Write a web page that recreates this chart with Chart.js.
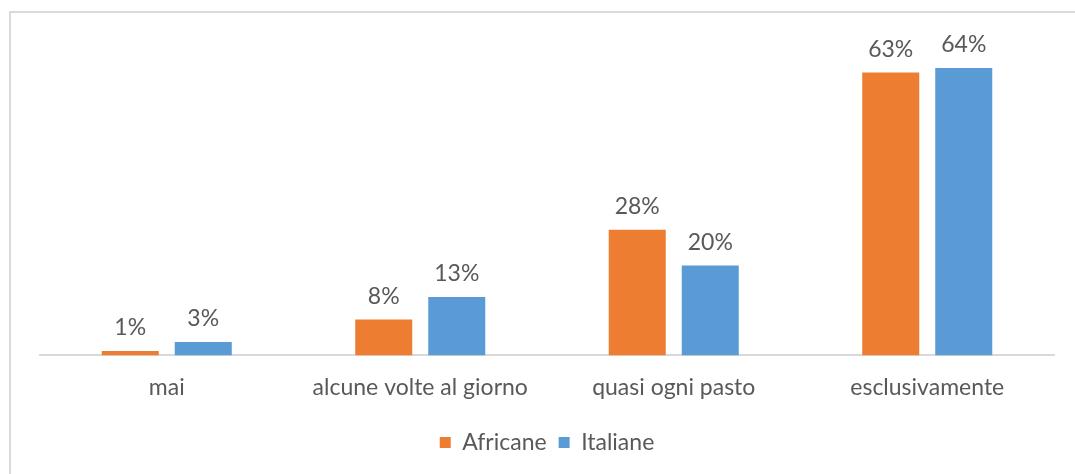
<!DOCTYPE html>
<html>
<head>
<meta charset="utf-8">
<script src="https://cdn.jsdelivr.net/npm/chart.js@4"></script>
<style>
  html, body { margin: 0; padding: 0; background: #ffffff; }
  #wrap { position: relative; width: 1075px; height: 474px; overflow: hidden; }
  #frame { position: absolute; left: 9px; top: 11px; width: 1100px; height: 500px;
           border-top: 2px solid #d9d9d9; border-left: 2px solid #d9d9d9; }
  canvas { position: absolute; left: 0; top: 0; }
</style>
</head>
<body>
<div id="wrap">
  <div id="frame"></div>
  <canvas id="c" width="1075" height="474"></canvas>
</div>
<script>
const categories = ["mai", "alcune volte al giorno", "quasi ogni pasto", "esclusivamente"];
const africane = [1, 8, 28, 63];
const italiane = [3, 13, 20, 64];
const seriesNames = ["Africane", "Italiane"];

const FONT = "Lato, 'Open Sans', sans-serif";
const TEXT = "#595959";
const SIZE = 23;

// Percent labels above every bar, placed from the bar elements themselves
const valueLabels = {
  id: "valueLabels",
  afterDatasetsDraw(chart) {
    const ctx = chart.ctx;
    ctx.save();
    ctx.font = SIZE + "px " + FONT;
    ctx.fillStyle = TEXT;
    ctx.textAlign = "center";
    ctx.textBaseline = "middle";
    chart.data.datasets.forEach((ds, i) => {
      chart.getDatasetMeta(i).data.forEach((bar, j) => {
        ctx.fillText(ds.data[j] + "%", bar.x, bar.y - 23);
      });
    });
    ctx.restore();
  }
};

new Chart(document.getElementById("c"), {
  type: "bar",
  data: {
    labels: categories,
    datasets: [
      { label: seriesNames[0], data: africane, backgroundColor: "#ED7D31" },
      { label: seriesNames[1], data: italiane, backgroundColor: "#5B9BD5" }
    ]
  },
  options: {
    responsive: false,
    animation: false,
    devicePixelRatio: 1,
    categoryPercentage: 0.576,
    barPercentage: 0.781,
    layout: { padding: { top: 41, left: 40, right: 21, bottom: 10 } },
    scales: {
      x: {
        grid: { display: false, drawTicks: false },
        border: { display: true, color: "#d9d9d9", width: 2 },
        ticks: { color: TEXT, font: { family: FONT, size: SIZE }, padding: 18 }
      },
      y: {
        display: false,
        min: 0,
        max: 70
      }
    },
    plugins: {
      legend: {
        position: "bottom",
        labels: {
          color: TEXT,
          font: { family: FONT, size: SIZE },
          boxWidth: 11,
          boxHeight: 11,
          padding: 12
        }
      },
      tooltip: { enabled: false }
    }
  },
  plugins: [valueLabels]
});
</script>
</body>
</html>
